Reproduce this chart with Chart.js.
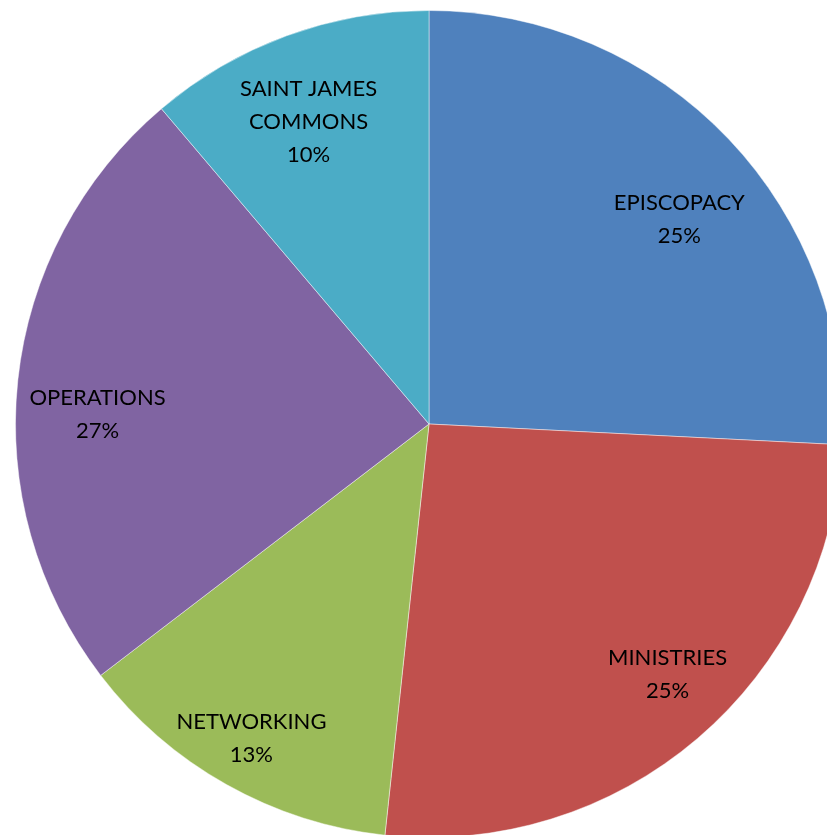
<!DOCTYPE html>
<html>
<head>
<meta charset="utf-8">
<script src="https://cdn.jsdelivr.net/npm/chart.js@4/dist/chart.umd.min.js"></script>
<style>
  html, body { margin: 0; padding: 0; background: #ffffff; overflow: hidden; width: 827px; height: 835px; }
  #c { position: absolute; left: 14.5px; top: 9.5px; }
</style>
</head>
<body>
<canvas id="c" width="828" height="828"></canvas>
<script>
// Categories, clockwise from 12 o'clock
const categories = ['EPISCOPACY', 'MINISTRIES', 'NETWORKING', 'OPERATIONS', 'SAINT JAMES COMMONS'];
const shares = [25.8, 25.9, 12.9, 24.2, 11.2];
// Percent labels as printed on the chart
const percentLabels = ['25%', '25%', '13%', '27%', '10%'];
const colors = ['#4F81BD', '#C0504D', '#9BBB59', '#8064A2', '#4BACC6'];

const FONT_PX = 22;
const FONT = FONT_PX + 'px Lato, "Open Sans", sans-serif';
const LINE_H = 33;
const MAX_W = 170;

function wrap(ctx, text, maxW) {
  const words = text.split(' ');
  const lines = [];
  let cur = '';
  for (const w of words) {
    const t = cur ? cur + ' ' + w : w;
    if (cur && ctx.measureText(t).width > maxW) { lines.push(cur); cur = w; }
    else cur = t;
  }
  if (cur) lines.push(cur);
  return lines;
}

const labelPlugin = {
  id: 'sliceLabels',
  afterDatasetsDraw(chart, args, opts) {
    const ctx = chart.ctx;
    const meta = chart.getDatasetMeta(0);
    const place = opts.placement;
    ctx.save();
    ctx.font = FONT;
    ctx.fillStyle = '#000000';
    ctx.textAlign = 'center';
    ctx.textBaseline = 'alphabetic';
    const capHalf = FONT_PX * 0.36;
    meta.data.forEach((arc, i) => {
      const p = arc.getProps(['x', 'y', 'startAngle', 'endAngle', 'outerRadius'], true);
      const mid = (p.startAngle + p.endAngle) / 2 + place[i].shift * Math.PI / 180;
      const r = p.outerRadius * place[i].radius;
      const x = p.x + Math.cos(mid) * r;
      const y = p.y + Math.sin(mid) * r;
      const lines = wrap(ctx, chart.data.labels[i], MAX_W).concat([percentLabels[i]]);
      const y0 = y - (lines.length - 1) * LINE_H / 2;
      lines.forEach((ln, k) => ctx.fillText(ln, x, y0 + k * LINE_H + capHalf));
    });
    ctx.restore();
  }
};

new Chart(document.getElementById('c'), {
  type: 'pie',
  data: {
    labels: categories,
    datasets: [{
      data: shares,
      backgroundColor: colors,
      borderColor: 'rgba(255,255,255,0.45)',
      borderWidth: 1
    }]
  },
  options: {
    responsive: false,
    animation: false,
    layout: { padding: 0 },
    plugins: {
      legend: { display: false },
      tooltip: { enabled: false },
      sliceLabels: {
        placement: [
          { shift: 4.2, radius: 0.783 },
          { shift: -3.2, radius: 0.835 },
          { shift: 0.2, radius: 0.871 },
          { shift: -4.3, radius: 0.802 },
          { shift: -1.5, radius: 0.789 }
        ]
      }
    }
  },
  plugins: [labelPlugin]
});
</script>
</body>
</html>
